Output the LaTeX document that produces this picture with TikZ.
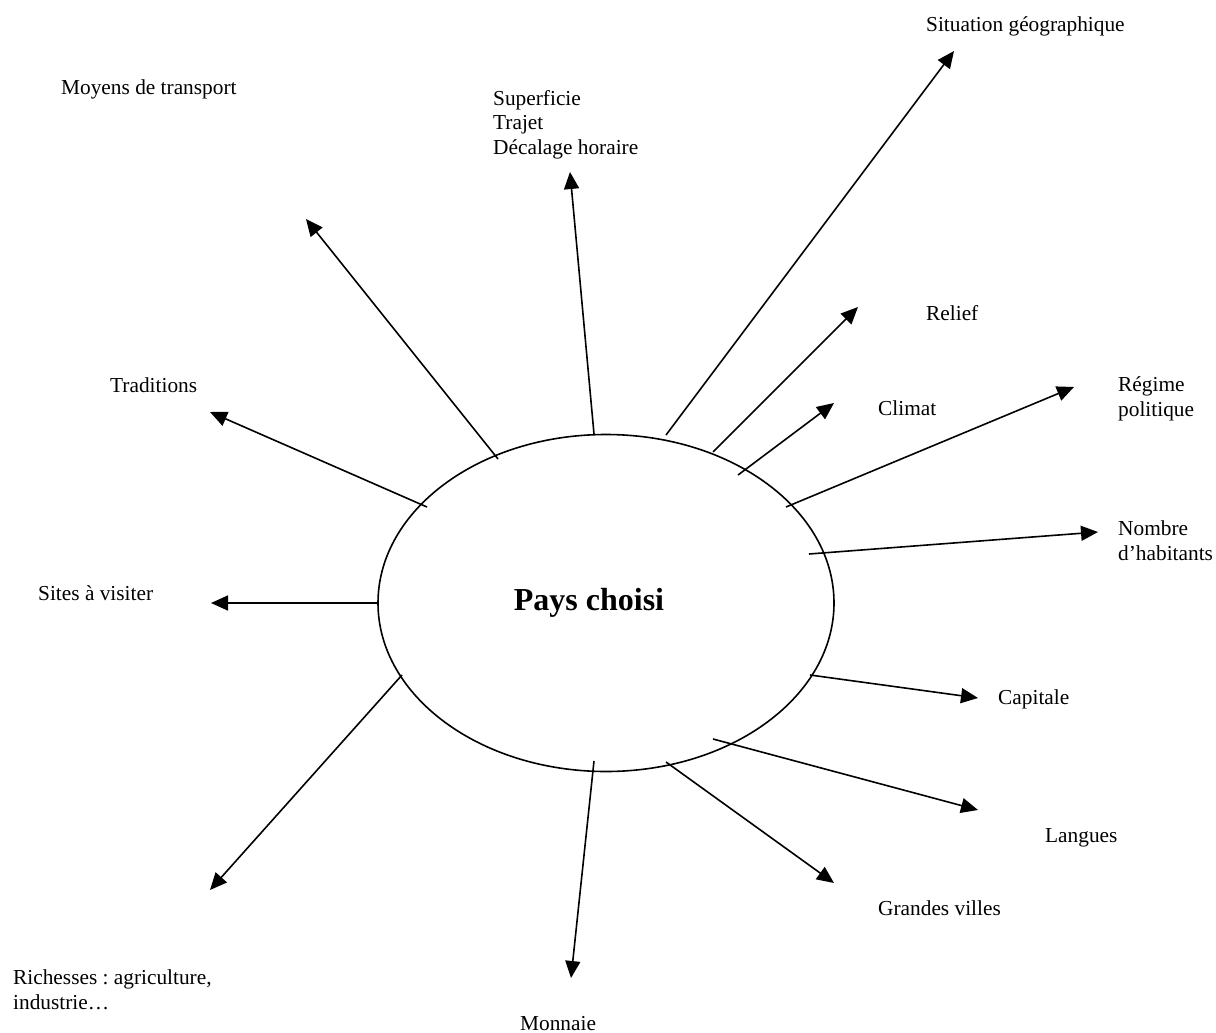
\documentclass[tikz,border=0pt]{standalone}
\usepackage{fontspec}
\setmainfont{Liberation Serif}
\frenchspacing
\usetikzlibrary{arrows.meta,shapes.geometric}
\begin{document}
\begin{tikzpicture}[x=1pt,y=-1pt,
  lbl/.style={inner sep=0pt,anchor=base west,align=left,font=\fontsize{21.33}{24.5}\selectfont},
  arr/.style={line width=1.6pt,-{Triangle[length=17pt,width=15pt]}}]
\useasboundingbox (0,0) rectangle (1216,1033);
\node[ellipse,draw,line width=1.6pt,minimum width=456pt,minimum height=337pt,inner sep=0pt] (pays) at (606,603) {};
\node[inner sep=0pt,font=\fontsize{32}{38}\selectfont\bfseries] (paystxt) at (589,603) {Pays choisi};
% labels (base = baseline of the last line)
\node[lbl] (moyens) at (61,95) {Moyens de transport};
\node[lbl] (superf) at (493,154) {Superficie\\Trajet\\Décalage horaire};
\node[lbl] (situ) at (926,32) {Situation géographique};
\node[lbl] (relief) at (926,320) {Relief};
\node[lbl] (climat) at (878,415) {Climat};
\node[lbl] (regime) at (1118,416) {Régime\\politique};
\node[lbl] (nombre) at (1118,560) {Nombre\\d’habitants};
\node[lbl] (trad) at (110,392) {Traditions};
\node[lbl] (sites) at (38,600) {Sites à visiter};
\node[lbl] (capit) at (998,704) {Capitale};
\node[lbl] (langues) at (1045,842) {Langues};
\node[lbl] (villes) at (878,915) {Grandes villes};
\node[lbl] (monnaie) at (520,1030) {Monnaie};
\node[lbl] (rich) at (13,1009) {Richesses : agriculture,\\industrie…};
% connector ends
\coordinate (tMoy) at (498,459);  \coordinate (hMoy) at (306,219);
\coordinate (tSup) at (594,434);  \coordinate (hSup) at (570,172);
\coordinate (tSit) at (666,435);  \coordinate (hSit) at (954,51);
\coordinate (tRel) at (713,452);  \coordinate (hRel) at (858,307);
\coordinate (tCli) at (738,475);  \coordinate (hCli) at (834,403);
\coordinate (tReg) at (786,507);  \coordinate (hReg) at (1074,387);
\coordinate (tNom) at (809,554);  \coordinate (hNom) at (1098,532);
\coordinate (tSite) at (378,603); \coordinate (hSite) at (211,603);
\coordinate (tTra) at (427,507);  \coordinate (hTra) at (210,412);
\coordinate (tCap) at (810,675);  \coordinate (hCap) at (978,698);
\coordinate (tLan) at (713,739);  \coordinate (hLan) at (978,810);
\coordinate (tVil) at (666,762);  \coordinate (hVil) at (834,883);
\coordinate (tMon) at (594,761);  \coordinate (hMon) at (571,978);
\coordinate (tRic) at (402,675);  \coordinate (hRic) at (210,890);
\foreach \n in {Moy,Sup,Sit,Rel,Cli,Reg,Nom,Site,Tra,Cap,Lan,Vil,Mon,Ric}
  \draw[arr] (t\n) -- (h\n);
\end{tikzpicture}
\end{document}
